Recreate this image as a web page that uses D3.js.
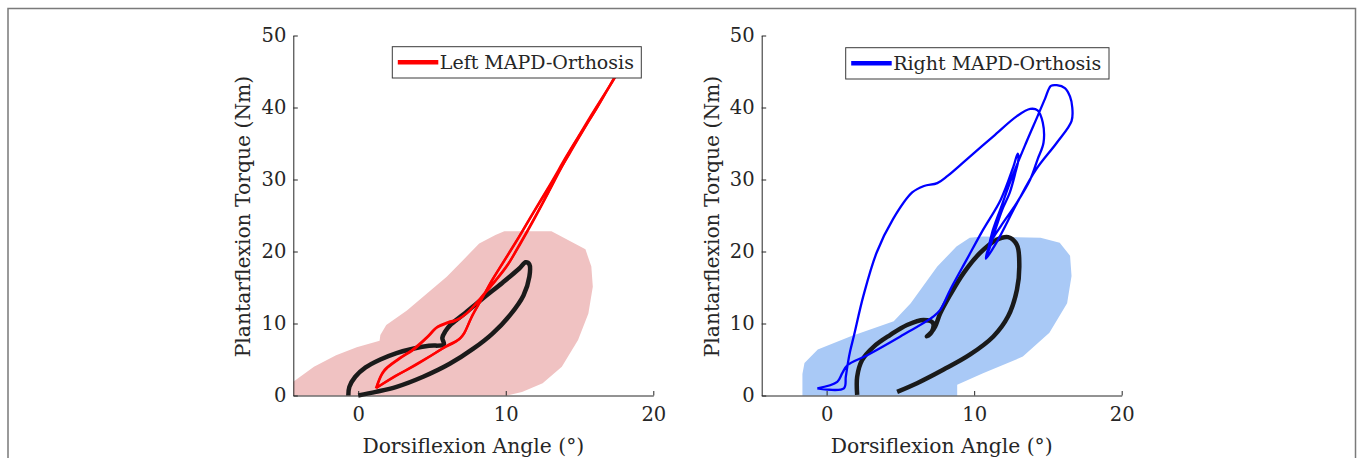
<!DOCTYPE html>
<html><head><meta charset="utf-8">
<script src="https://cdn.jsdelivr.net/npm/d3@7"></script>
<style>
body{margin:0;background:#fff}
svg{display:block}
text{font-family:"DejaVu Serif","Liberation Serif",serif;fill:#262626}
</style>
</head><body>
<svg id="chart" width="1360" height="458"></svg>
<script>
// ---------- data ----------
const xTicks = [0, 10, 20];
const yTicks = [0, 10, 20, 30, 40, 50];
const xDomain = [-4.4, 20];
const yDomain = [0, 50];
const xLabel = "Dorsiflexion Angle (°)";
const yLabel = "Plantarflexion Torque (Nm)";
const legendLeft = "Left MAPD-Orthosis";
const legendRight = "Right MAPD-Orthosis";

// normative band (left panel)
const leftBand = [
  [-4.4,0],[-4.4,1.9],[-3.0,4.0],[-1.5,5.6],[-0.1,6.7],[1.45,7.6],[1.5,8.4],[1.9,9.8],
  [3.3,11.8],[4.8,14.4],[6.0,16.5],[7.1,18.8],[8.2,21.1],[9.3,22.3],[9.9,22.8],
  [13.1,22.8],[15.4,20.3],[15.8,17.9],[15.9,15.1],[15.6,11.4],[14.9,7.7],[13.8,4.0],
  [12.5,1.7],[11.1,0.5],[10.1,0]
];
// normative mean (left panel)
const leftNormal = [
  [-0.67,0],[-0.6,1.2],[-0.2,2.6],[0.5,3.9],[1.5,5.0],[2.6,5.9],[3.7,6.5],[4.8,6.9],[5.8,7.1],
  [5.7,8.0],[5.9,8.9],[6.3,9.9],[7.1,11.2],[8.4,13.4],[9.8,15.7],[10.9,17.6],[11.35,18.5],
  [11.6,18.2],[11.6,16.5],[11.2,13.9],[10.3,11.2],[9.1,8.6],[7.8,6.5],[6.2,4.4],[4.4,2.6],
  [2.6,1.2],[1.2,0.5],[0,0]
];
// orthosis trials (left panel)
const leftOrthosisA = [
  [1.2,1.0],[1.5,2.6],[1.8,3.6],[2.6,4.9],[3.7,6.4],[4.6,8.0],[5.3,9.4],[6.0,10.0],[6.6,10.4],
  [7.35,11.4],[8.47,13.9],[9.3,15.9],[10.06,17.9],[10.8,20.5],[11.6,23.4],[12.9,28.3],
  [14.0,32.7],[14.8,35.5],[16.1,39.7],[17.4,44.3],[17.9,46.0],
  [17.5,44.5],[16.0,39.5],[15.1,36.3],[14.3,33.5],[13.2,29.8],[12.0,25.8],[10.9,22.0],
  [9.9,18.7],[9.0,15.8],[8.4,13.5],[7.9,11.7],[7.55,10.3],[7.2,8.7],[6.9,7.9],[6.0,6.9],
  [5.3,6.0],[3.7,4.0],[2.5,2.7],[1.2,1.0]
];
const leftOrthosisB = [
  [1.25,1.1],[1.6,2.9],[2.0,3.9],[2.8,5.1],[3.9,6.6],[4.8,8.3],[5.4,9.6],[6.1,10.2],[6.8,10.6],
  [7.5,11.7],[8.6,14.3],[9.5,16.5],[10.3,18.7],[11.0,21.1],[11.8,24.0],[13.0,28.6],
  [14.1,32.9],[14.9,35.7],[16.2,40.0],[17.5,44.6],[17.9,46.0],
  [17.4,44.2],[15.9,39.3],[14.9,35.9],[14.1,33.2],[13.0,29.3],[11.8,25.2],[10.7,21.4],
  [9.7,18.1],[8.85,15.2],[8.25,13.0],[7.75,11.2],[7.45,9.8],[7.1,8.4],[6.7,7.6],[5.8,6.6],
  [4.8,5.4],[3.4,3.7],[2.3,2.4],[1.25,1.1]
];

// normative band (right panel)
const rightBand = [
  [-1.64,0],[-1.64,3.0],[-1.5,4.5],[-0.6,6.4],[1.6,8.2],[4.55,10.3],[5.7,12.8],[7.5,17.9],
  [8.8,20.7],[9.7,21.9],[10.6,22.1],[14.5,21.9],[15.8,21.2],[16.5,19.4],[16.6,16.6],
  [16.3,12.8],[15.1,8.7],[13.3,5.4],[10.6,3.1],[8.85,1.5],[8.85,0]
];
// normative mean (right panel)
const rightNormal = [
  [2.07,0.1],[2.07,2.6],[2.4,4.9],[3.2,6.8],[4.3,8.4],[5.45,9.8],[6.57,10.5],[7.2,10.1],
  [7.14,8.9],[6.8,8.2],[7.1,8.8],[7.36,9.6],[7.7,11.4],[8.38,14.0],[9.28,17.0],[10.4,19.8],
  [11.5,21.6],[12.3,22.0],[12.9,20.9],[13.06,18.0],[12.9,14.7],[12.3,11.0],[11.3,8.2],
  [9.73,5.7],[7.93,3.6],[6.13,1.7],[4.78,0.5]
];
// orthosis trial (right panel)
const rightOrthosis = [
  [-0.63,1.0],[1.17,1.0],[1.3,2.6],[1.45,4.6],[1.6,6.2],[1.85,8.3],[2.5,13.9],[3.4,19.9],
  [4.5,24.5],[5.8,28.2],[6.6,29.1],[7.5,29.5],[8.2,30.5],[9.5,32.8],[11.3,36.0],[12.9,38.8],
  [13.8,39.8],[14.3,39.6],[14.65,37.9],[14.7,35.1],[14.3,32.8],[13.8,30.0],[12.9,26.8],
  [11.8,23.5],[11.1,21.2],[10.8,19.0],
  [11.5,21.2],[12.9,26.7],[14.2,31.4],[15.6,35.1],[16.6,38.1],[16.65,40.0],[16.5,41.5],
  [16.15,42.7],[15.6,43.1],[15.2,43.0],[14.8,41.2],[14.3,38.8],[13.5,35.0],[12.6,30.5],
  [11.8,26.0],[11.2,22.5],[10.9,19.6],
  [11.4,22.8],[11.9,25.8],[12.4,28.1],[12.8,31.0],[13.0,32.8],[12.95,33.6],[12.66,31.8],
  [11.8,27.2],[10.6,23.0],[9.5,18.9],[8.38,14.7],[7.7,11.9],[7.25,11.0],[5.0,8.2],
  [2.75,5.6],[1.4,4.2],[1.06,3.1],[0.72,1.9],[-0.63,1.0]
];

// ---------- drawing ----------
const svg = d3.select("#chart");
const fontTick = 19.5, fontLabel = 20.3, fontLegend = 19;

// outer frame
svg.append("rect").attr("x", 8).attr("y", 8.5).attr("width", 1347.5).attr("height", 470)
  .attr("fill", "none").attr("stroke", "#7a7a7a").attr("stroke-width", 1.5);

function panel(cfg) {
  const x = d3.scaleLinear().domain(xDomain).range([cfg.left, cfg.left + 360]);
  const y = d3.scaleLinear().domain(yDomain).range([395.5, 35.5]);
  const g = svg.append("g");
  const line = d3.line().x(d => x(d[0])).y(d => y(d[1]));
  const smooth = d3.line().x(d => x(d[0])).y(d => y(d[1])).curve(d3.curveCatmullRom.alpha(0.5));

  g.append("path").attr("d", line(cfg.band) + "Z").attr("fill", cfg.bandColor).attr("stroke", "none");
  g.append("path").attr("d", smooth(cfg.normal)).attr("fill", "none")
    .attr("stroke", "#1a1a1a").attr("stroke-width", 4.5).attr("stroke-linejoin", "round").attr("stroke-linecap", "butt");
  cfg.trials.forEach(t => {
    g.append("path").attr("d", smooth(t)).attr("fill", "none")
      .attr("stroke", cfg.color).attr("stroke-width", 2.3).attr("stroke-linejoin", "round");
  });

  // axes
  const xa = g.append("g").attr("transform", "translate(0,395.5)")
    .call(d3.axisBottom(x).tickValues(xTicks).tickSizeInner(-4.5).tickSizeOuter(0).tickPadding(11));
  const ya = g.append("g").attr("transform", `translate(${cfg.left},0)`)
    .call(d3.axisLeft(y).tickValues(yTicks).tickSizeInner(-4.5).tickSizeOuter(0).tickPadding(7));
  [xa, ya].forEach(a => {
    a.select(".domain").attr("stroke", "#262626").attr("stroke-width", 1);
    a.selectAll(".tick line").attr("stroke", "#262626");
    a.selectAll(".tick text").attr("font-size", fontTick).attr("font-family", null).attr("fill", "#262626");
  });
  xa.selectAll(".tick text").attr("dy", "0.72em");

  g.append("text").attr("x", cfg.left + 180).attr("y", 453).attr("text-anchor", "middle")
    .attr("font-size", fontLabel).text(xLabel);
  g.append("text").attr("transform", `translate(${cfg.left - 50},216.5) rotate(-90)`)
    .attr("text-anchor", "middle").attr("dy", "0.35em").attr("font-size", fontLabel).text(yLabel);

  // legend
  const lg = g.append("g");
  lg.append("rect").attr("x", cfg.legX).attr("y", cfg.legY).attr("width", cfg.legW).attr("height", 31.3)
    .attr("fill", "#fff").attr("stroke", "#3a3a3a").attr("stroke-width", 1);
  lg.append("line").attr("x1", cfg.legX + 5.5).attr("x2", cfg.legX + 46)
    .attr("y1", cfg.legY + 15.6).attr("y2", cfg.legY + 15.6)
    .attr("stroke", cfg.color).attr("stroke-width", 4.5);
  lg.append("text").attr("x", cfg.legX + 47.5).attr("y", cfg.legY + 15.6).attr("dy", "0.36em")
    .attr("font-size", fontLegend).text(cfg.legend);
}

panel({left: 293.3, band: leftBand, bandColor: "#f0c2c2", normal: leftNormal,
  trials: [leftOrthosisA, leftOrthosisB], color: "#ff0000",
  legX: 392.3, legY: 46.7, legW: 249, legend: legendLeft});
panel({left: 761.7, band: rightBand, bandColor: "#a9c9f6", normal: rightNormal,
  trials: [rightOrthosis], color: "#0000ff",
  legX: 845.7, legY: 47.7, legW: 263.3, legend: legendRight});
</script>
</body></html>
